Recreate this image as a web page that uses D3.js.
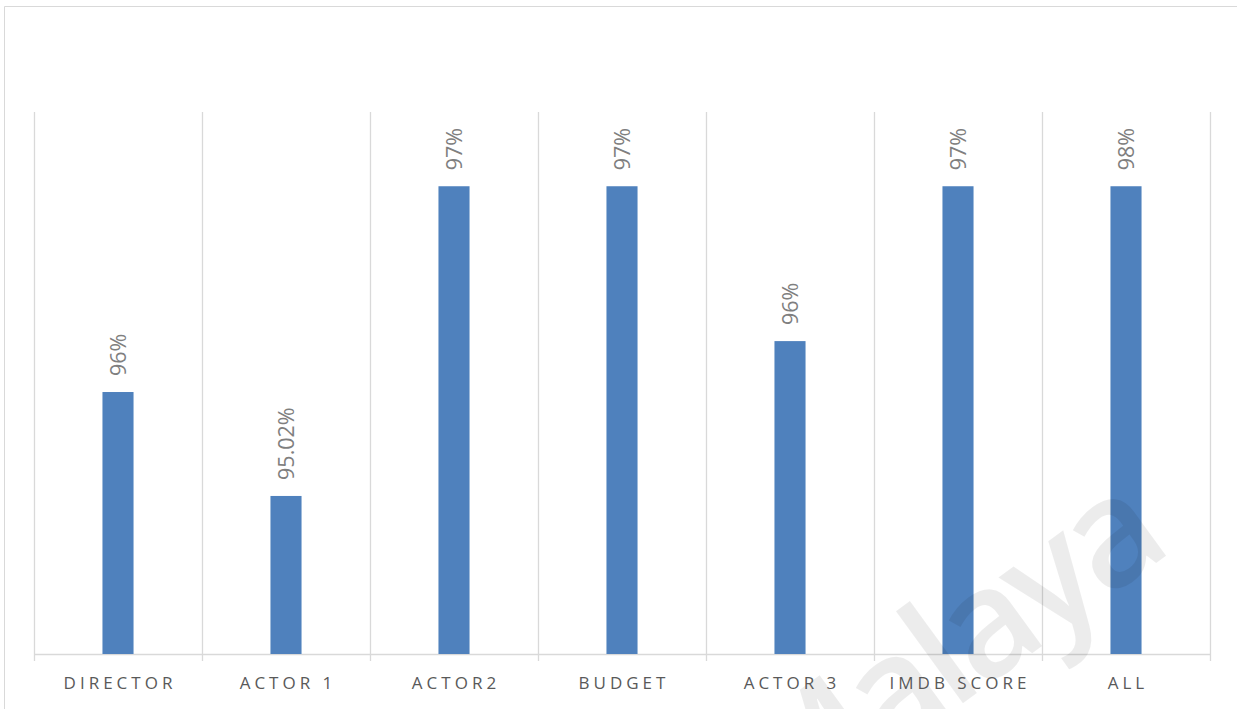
<!DOCTYPE html>
<html>
<head>
<meta charset="utf-8">
<script src="https://cdn.jsdelivr.net/npm/d3@7"></script>
<style>
  html, body { margin: 0; padding: 0; background: #fff; }
  svg { display: block; }
</style>
</head>
<body>
<svg id="chart" width="1237" height="709"></svg>
<script>
// ---- data ----
const categories = ["DIRECTOR", "ACTOR 1", "ACTOR2", "BUDGET", "ACTOR 3", "IMDB SCORE", "ALL"];
const values = [96.0, 95.02, 97.94, 97.94, 96.48, 97.94, 97.94];
const valueLabels = ["96%", "95.02%", "97%", "97%", "96%", "97%", "98%"];
const yDomain = [93.53, 98.64];

// ---- layout ----
const W = 1237, H = 709;
const plot = { left: 34, right: 1210, top: 112, bottom: 654 };
const svg = d3.select("#chart");

// outer border (top and left visible)
svg.append("line").attr("x1", 4.5).attr("x2", W).attr("y1", 6.5).attr("y2", 6.5)
  .attr("stroke", "#d9d9d9").attr("stroke-width", 1);
svg.append("line").attr("x1", 4.5).attr("x2", 4.5).attr("y1", 6.5).attr("y2", H)
  .attr("stroke", "#d9d9d9").attr("stroke-width", 1);

const x = d3.scaleBand().domain(categories).range([plot.left, plot.right]).padding(0);
const y = d3.scaleLinear().domain(yDomain).range([plot.bottom, plot.top]);

// category separator gridlines (with tick extension below baseline)
const bounds = categories.map(c => x(c)).concat([plot.right]);
svg.append("g").selectAll("line").data(bounds).join("line")
  .attr("x1", d => Math.round(d) + 0.5).attr("x2", d => Math.round(d) + 0.5)
  .attr("y1", plot.top).attr("y2", plot.bottom + 7)
  .attr("stroke", "#d9d9d9").attr("stroke-width", 1.3);

// baseline
svg.append("line").attr("x1", plot.left).attr("x2", plot.right + 1)
  .attr("y1", plot.bottom + 0.5).attr("y2", plot.bottom + 0.5)
  .attr("stroke", "#d9d9d9").attr("stroke-width", 1.5);

// bars
const barW = x.bandwidth() * 0.185;
svg.append("g").selectAll("rect").data(categories).join("rect")
  .attr("x", (c) => x(c) + x.bandwidth() / 2 - barW / 2)
  .attr("width", barW)
  .attr("y", (c, i) => y(values[i]))
  .attr("height", (c, i) => plot.bottom - y(values[i]))
  .attr("fill", "#4f81bd");

// watermark on top, semi-transparent so it tints the bars
svg.append("text")
  .attr("transform", "translate(1170,553) rotate(-36)")
  .attr("text-anchor", "end")
  .attr("font-family", "'Open Sans', sans-serif")
  .attr("font-size", 150)
  .attr("font-weight", 600)
  .attr("letter-spacing", -7)
  .attr("fill", "#000")
  .attr("fill-opacity", 0.075)
  .text("Universiti Malaya");

// data labels (rotated)
svg.append("g").selectAll("text").data(categories).join("text")
  .attr("transform", (c, i) => `translate(${x(c) + x.bandwidth() / 2},${y(values[i]) - 16}) rotate(-90)`)
  .attr("dy", "0.36em")
  .attr("text-anchor", "start")
  .attr("font-family", "'Open Sans', sans-serif")
  .attr("font-size", 21.5)
  .attr("fill", "#7f7f7f")
  .text((c, i) => valueLabels[i]);

// category labels
svg.append("g").selectAll("text").data(categories).join("text")
  .attr("x", c => x(c) + x.bandwidth() / 2 + 2)
  .attr("y", 689)
  .attr("text-anchor", "middle")
  .attr("font-family", "'Open Sans', sans-serif")
  .attr("font-size", 17)
  .attr("letter-spacing", 4)
  .attr("fill", "#595959")
  .text(c => c);
</script>
</body>
</html>
